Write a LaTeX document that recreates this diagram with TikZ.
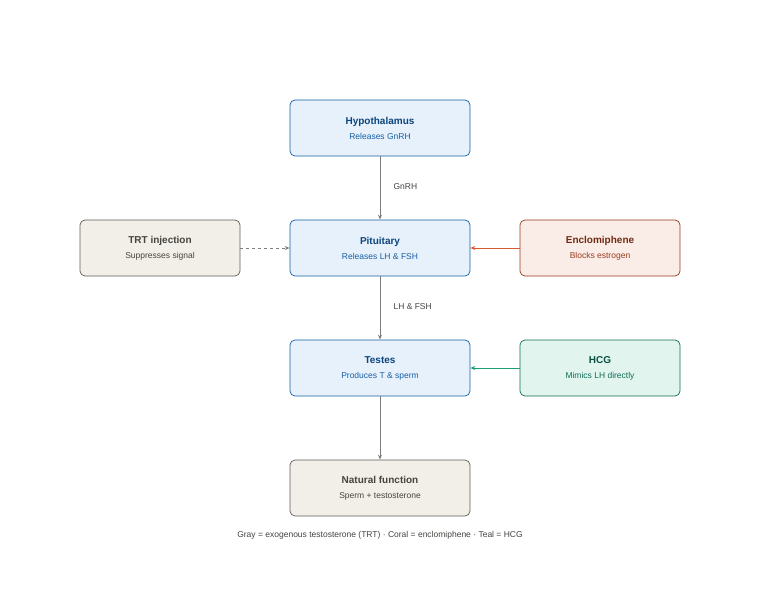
\documentclass[tikz,border=0pt]{standalone}
\usepackage{fontspec}
\setmainfont{Liberation Sans}
\usetikzlibrary{arrows.meta}
\definecolor{bfill}{HTML}{E6F1FB}\definecolor{bdraw}{HTML}{185FA5}\definecolor{btit}{HTML}{0C447C}\definecolor{bsub}{HTML}{185FA5}
\definecolor{gfill}{HTML}{F1EFE8}\definecolor{gdraw}{HTML}{5F5E5A}\definecolor{gtit}{HTML}{444441}
\definecolor{cfill}{HTML}{FAECE7}\definecolor{cdraw}{HTML}{993C1D}\definecolor{ctit}{HTML}{712B13}\definecolor{carr}{HTML}{D85A30}
\definecolor{tfill}{HTML}{E1F5EE}\definecolor{tdraw}{HTML}{0F6E56}\definecolor{ttit}{HTML}{085041}\definecolor{tarr}{HTML}{1D9E75}
\tikzset{
 box/.style={rounded corners=5pt,line width=0.7pt,minimum height=56pt,align=center,inner sep=0pt},
 wide/.style={box,minimum width=180pt},
 narrow/.style={box,minimum width=160pt},
 blue/.style={fill=bfill,draw=bdraw},
 gray/.style={fill=gfill,draw=gdraw},
 coral/.style={fill=cfill,draw=cdraw},
 teal/.style={fill=tfill,draw=tdraw},
 arr/.style={-{Stealth[length=5pt,width=4pt,open]},line width=0.7pt,draw=gdraw!80},
 lbl/.style={font=\fontsize{8.5}{10}\selectfont,text=gtit,anchor=west},
}
\newcommand{\bx}[3]{{\fontsize{10}{12}\selectfont\bfseries\color{#1}#2}\\[3pt]{\fontsize{8.5}{10}\selectfont\color{#1}#3}}
\begin{document}
\begin{tikzpicture}[x=1pt,y=-1pt]
\useasboundingbox[fill=white] (0,0) rectangle (760,600);
\node[wide,blue] (hyp) at (380,128) {\bx{btit}{Hypothalamus}{\color{bsub}Releases GnRH}};
\node[wide,blue] (pit) at (380,248) {\bx{btit}{Pituitary}{\color{bsub}Releases LH \& FSH}};
\node[wide,blue] (tes) at (380,368) {\bx{btit}{Testes}{\color{bsub}Produces T \& sperm}};
\node[wide,gray] (nat) at (380,488) {\bx{gtit}{Natural function}{Sperm + testosterone}};
\node[narrow,gray] (trt) at (160,248) {\bx{gtit}{TRT injection}{Suppresses signal}};
\node[narrow,coral] (enc) at (600,248) {\bx{ctit}{Enclomiphene}{\color{cdraw}Blocks estrogen}};
\node[narrow,teal] (hcg) at (600,368) {\bx{ttit}{HCG}{\color{tdraw}Mimics LH directly}};
\draw[arr] (hyp) -- (pit);
\draw[arr] (pit) -- (tes);
\draw[arr] (tes) -- (nat);
\draw[arr,dashed] (trt) -- (pit);
\draw[arr,draw=carr] (enc) -- (pit);
\draw[arr,draw=tarr] (hcg) -- (tes);
\node[lbl] (l1) at (390,187) {GnRH};
\node[lbl] (l2) at (390,307) {LH \& FSH};
\node[font=\fontsize{8.5}{10}\selectfont,text=gtit] (cap) at (380,535) {Gray = exogenous testosterone (TRT) · Coral = enclomiphene · Teal = HCG};
\end{tikzpicture}
\end{document}
